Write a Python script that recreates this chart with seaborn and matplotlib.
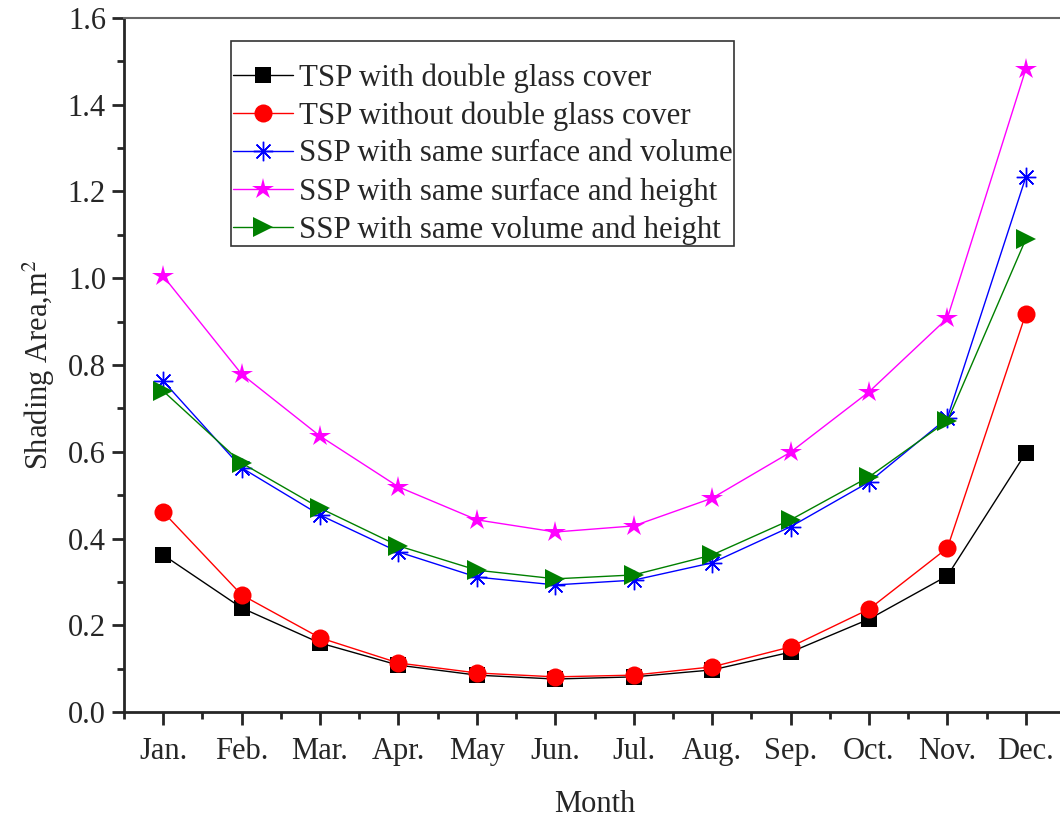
import numpy as np
import pandas as pd
import matplotlib
matplotlib.use("Agg")
import matplotlib.pyplot as plt
import seaborn as sns
from matplotlib.ticker import MultipleLocator

months = ["Jan.", "Feb.", "Mar.", "Apr.", "May", "Jun.", "Jul.", "Aug.", "Sep.", "Oct.", "Nov.", "Dec."]
tsp_double = [0.362, 0.240, 0.159, 0.108, 0.085, 0.076, 0.081, 0.097, 0.138, 0.214, 0.314, 0.597]
tsp_without = [0.461, 0.270, 0.171, 0.113, 0.090, 0.081, 0.085, 0.104, 0.150, 0.237, 0.378, 0.918]
ssp_surf_vol = [0.763, 0.563, 0.454, 0.369, 0.311, 0.293, 0.304, 0.344, 0.427, 0.530, 0.678, 1.233]
ssp_surf_height = [1.005, 0.779, 0.636, 0.519, 0.443, 0.415, 0.429, 0.493, 0.599, 0.738, 0.908, 1.482]
ssp_vol_height = [0.740, 0.574, 0.470, 0.383, 0.327, 0.307, 0.316, 0.362, 0.443, 0.542, 0.671, 1.090]
labels = ["TSP with double glass cover", "TSP without double glass cover",
          "SSP with same surface and volume", "SSP with same surface and height",
          "SSP with same volume and height"]

sns.set_style("ticks")
plt.rcParams['font.family'] = ['Liberation Serif', 'DejaVu Serif']
plt.rcParams['mathtext.fontset'] = 'stix'

fig = plt.figure(figsize=(10.6, 8.18), dpi=100)
ax = fig.add_axes([124/1060, (818-712)/818, 941/1060, 694/818])

x = np.arange(len(months))
series = [tsp_double, tsp_without, ssp_surf_vol, ssp_surf_height, ssp_vol_height]
colors = ["black", "red", "blue", "magenta", "green"]
markers = ["s", "o", (8, 2, 0), "*", ">"]
msizes = [11, 13, 14, 16, 14]
for vals, c, m, ms, lab in zip(series, colors, markers, msizes, labels):
    sns.lineplot(x=x, y=vals, ax=ax, color=c, marker=m, markersize=ms,
                 markeredgecolor=c, markeredgewidth=1.0 if m == (8, 2, 0) else 0,
                 linewidth=1.0, label=lab)

ax.set_xlim(-0.5, 11.5)
ax.set_ylim(0, 1.6)
ax.set_xticks(x)
ax.set_xticklabels(months)
ax.xaxis.set_minor_locator(MultipleLocator(0.5))
ax.yaxis.set_major_locator(MultipleLocator(0.2))
ax.yaxis.set_minor_locator(MultipleLocator(0.1))
ax.yaxis.set_major_formatter(matplotlib.ticker.FormatStrFormatter('%.1f'))
ax.tick_params(which='major', direction='out', length=9, width=2, labelsize=22)
ax.tick_params(axis='x', which='major', pad=9)
ax.tick_params(axis='y', which='major', pad=4)
ax.tick_params(which='minor', direction='out', length=5, width=2)
for s in ['left', 'bottom']:
    ax.spines[s].set_linewidth(2)
ax.spines['top'].set_color('#666666')
ax.spines['top'].set_linewidth(1.5)
ax.spines['right'].set_visible(False)

ax.set_xlabel("Month", fontsize=22, labelpad=17)
ax.set_ylabel("Shading Area,m$^2$", fontsize=22, labelpad=8)

leg = ax.legend(loc='upper left', bbox_to_anchor=(107/941, 1 - 23/694), fontsize=22.2,
                frameon=True, fancybox=False, edgecolor='black', handlelength=1.95,
                handletextpad=0.2, labelspacing=0.28, borderpad=0.05, borderaxespad=0,
                title=" ", title_fontsize=9)
leg.get_frame().set_linewidth(1.2)

fig.savefig("out.png", dpi=100)
